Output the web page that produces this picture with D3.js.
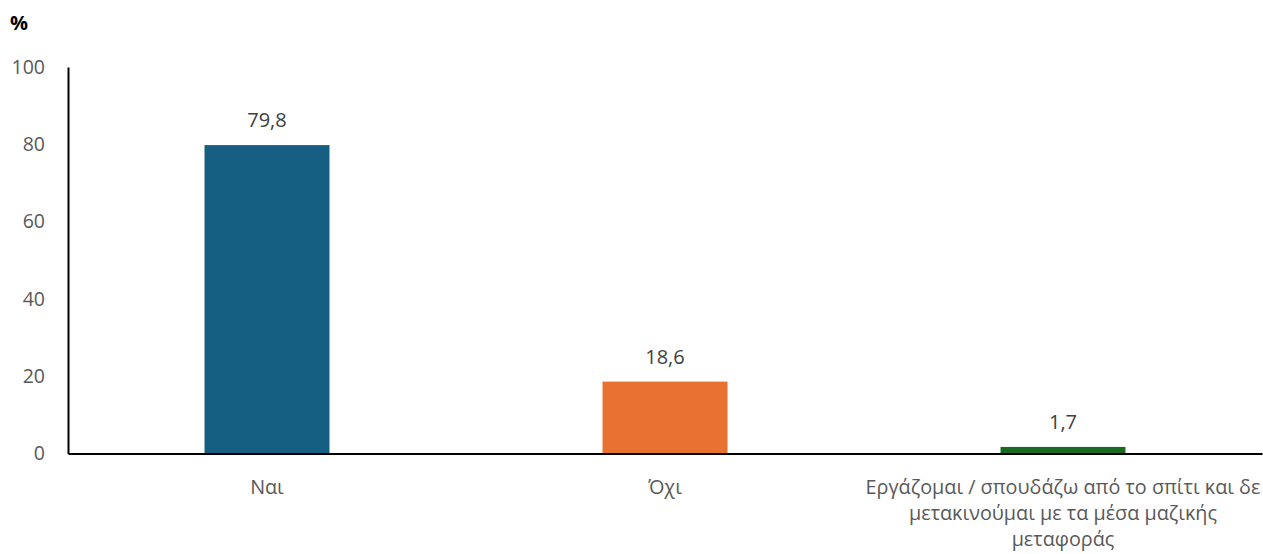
<!DOCTYPE html>
<html>
<head>
<meta charset="utf-8">
<script src="https://cdn.jsdelivr.net/npm/d3@7/dist/d3.min.js"></script>
<style>
  html, body { margin: 0; padding: 0; background: #fff; }
  svg { display: block; }
  text { font-family: "Open Sans", "Noto Sans", sans-serif; }
</style>
</head>
<body>
<svg id="chart" width="1263" height="554"></svg>
<script>
const categories = ["Ναι", "Όχι", "Εργάζομαι / σπουδάζω από το σπίτι και δε μετακινούμαι με τα μέσα μαζικής μεταφοράς"];
const values = [79.8, 18.6, 1.7];
const colors = ["#156082", "#E97132", "#196B24"];
const yTicks = [0, 20, 40, 60, 80, 100];
const yLabel = "%";

(function () {
const svg = d3.select("#chart");
const mLeft = 68, mRight = 1262, mTop = 67, mBottom = 453.5;

const x = d3.scaleBand().domain(categories).range([mLeft, mRight]).padding(0);
const y = d3.scaleLinear().domain([0, 100]).range([mBottom, mTop]);
const barW = x.bandwidth() * 0.314;
const fmt = v => String(v).replace(".", ",");

// y axis
const yAxis = svg.append("g")
  .attr("transform", `translate(${mLeft},0)`)
  .call(d3.axisLeft(y).tickValues(yTicks).tickSize(0).tickPadding(23));
yAxis.select(".domain").attr("stroke", "#000").attr("stroke-width", 2);
yAxis.selectAll("text").attr("fill", "#595959").attr("font-size", 19.5)
  .style("font-family", '"Open Sans", sans-serif');

// bars
svg.append("g").selectAll("rect").data(values).join("rect")
  .attr("x", (d, i) => x(categories[i]) + x.bandwidth() / 2 - barW / 2)
  .attr("width", barW)
  .attr("y", d => y(d))
  .attr("height", d => y(0) - y(d))
  .attr("fill", (d, i) => colors[i]);

// x axis
const xAxis = svg.append("g")
  .attr("transform", `translate(0,${mBottom})`)
  .call(d3.axisBottom(x).tickSize(0).tickPadding(0));
xAxis.select(".domain").attr("stroke", "#000").attr("stroke-width", 2);
xAxis.selectAll("text").remove();

// category labels, wrapped
const catFont = 19.8, lineH = 26;
categories.forEach((c, i) => {
  const t = svg.append("text")
    .attr("text-anchor", "middle")
    .attr("fill", "#595959")
    .attr("font-size", catFont);
  const cx = x(c) + x.bandwidth() / 2;
  const words = c.split(" ");
  let lines = [], cur = [];
  const maxW = x.bandwidth() - 1;
  const probe = t.append("tspan");
  words.forEach(w => {
    const test = cur.concat([w]).join(" ");
    probe.text(test);
    if (probe.node().getComputedTextLength() > maxW && cur.length) {
      lines.push(cur.join(" "));
      cur = [w];
    } else cur.push(w);
  });
  lines.push(cur.join(" "));
  probe.remove();
  lines.forEach((l, k) => {
    t.append("tspan").attr("x", cx).attr("y", 494 + k * lineH).text(l);
  });
});

// value labels
svg.append("g").selectAll("text").data(values).join("text")
  .attr("x", (d, i) => x(categories[i]) + x.bandwidth() / 2)
  .attr("y", d => y(d) - 18)
  .attr("text-anchor", "middle")
  .attr("fill", "#404040")
  .attr("font-size", 20)
  .text(d => fmt(d));

// unit label
svg.append("text")
  .attr("x", 10).attr("y", 30)
  .attr("font-size", 20).attr("font-weight", "bold").attr("fill", "#000")
  .text(yLabel);
})();
</script>
</body>
</html>
